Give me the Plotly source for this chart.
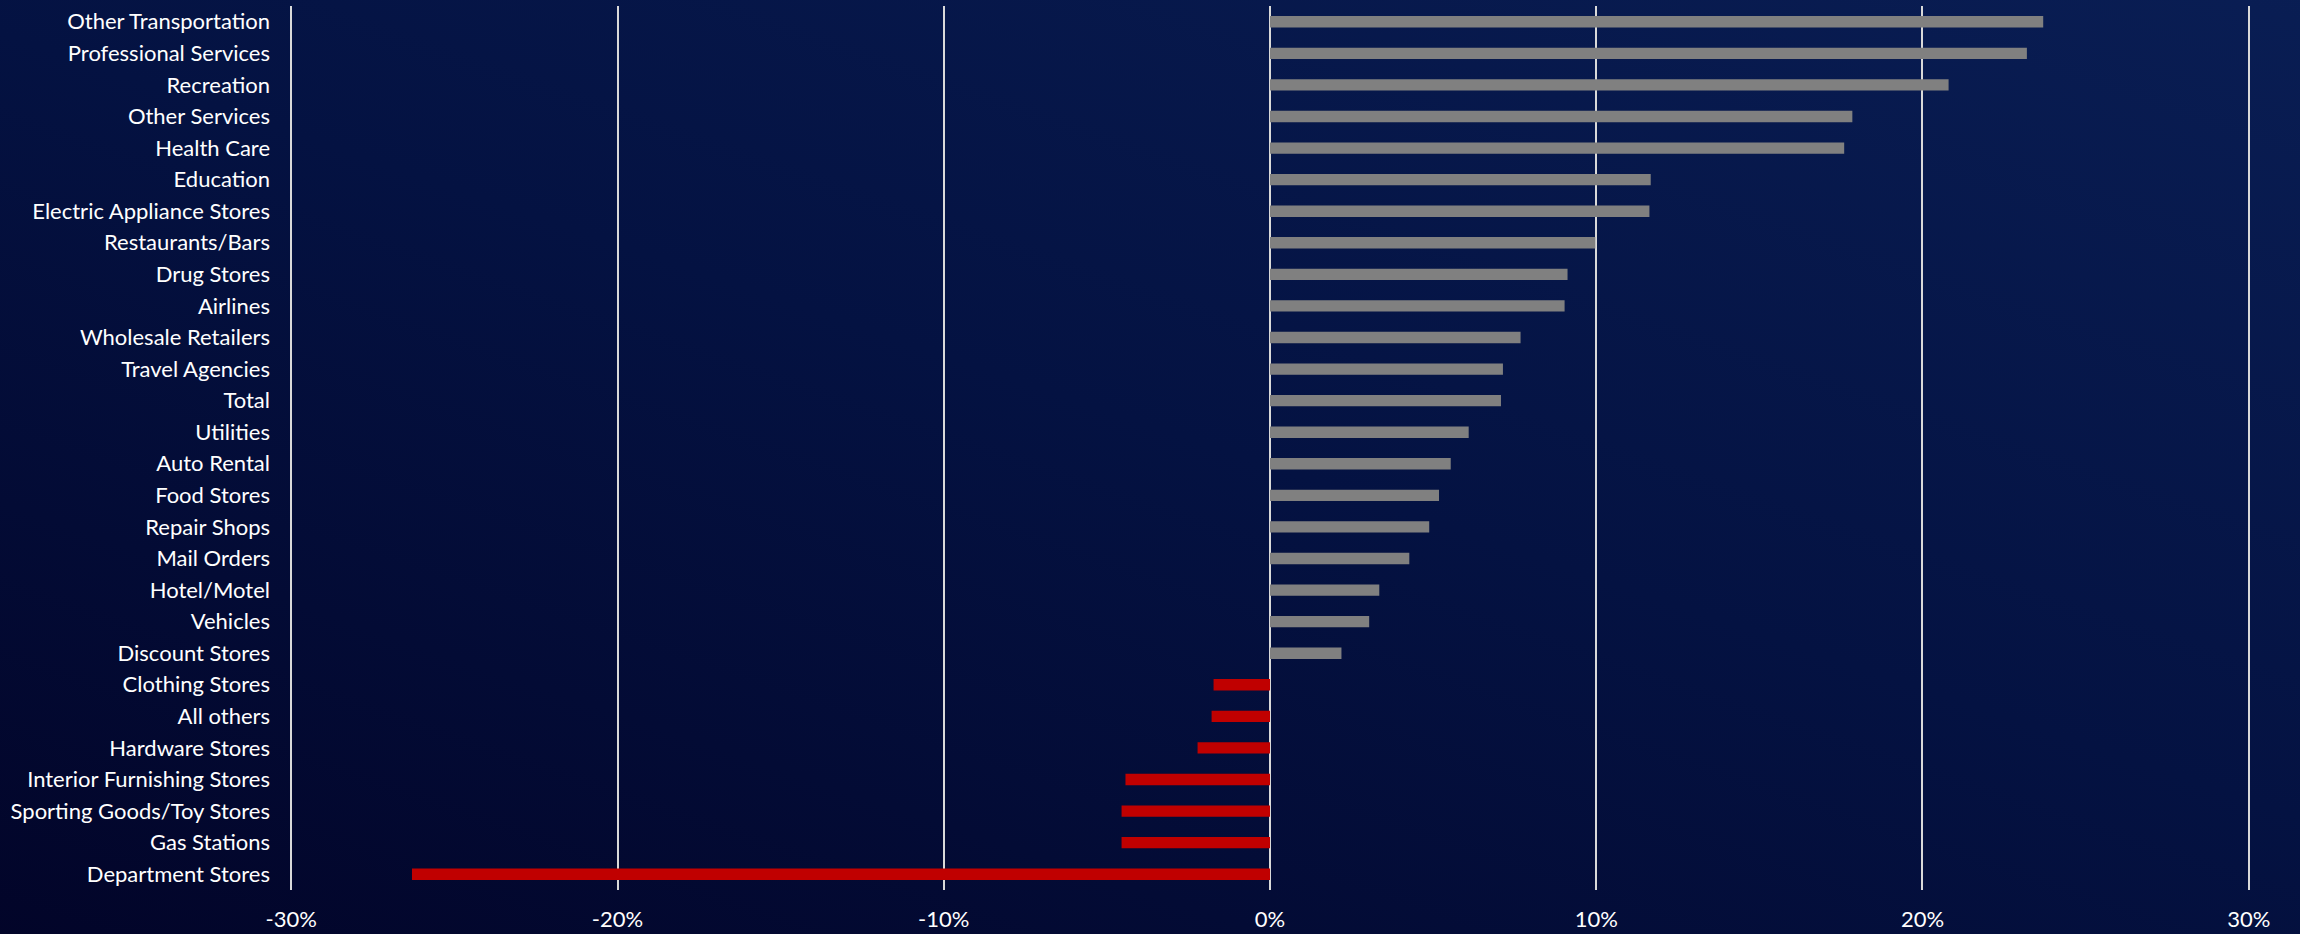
import plotly.graph_objects as go

categories = [
    "Other Transportation", "Professional Services", "Recreation", "Other Services",
    "Health Care", "Education", "Electric Appliance Stores", "Restaurants/Bars",
    "Drug Stores", "Airlines", "Wholesale Retailers", "Travel Agencies", "Total",
    "Utilities", "Auto Rental", "Food Stores", "Repair Shops", "Mail Orders",
    "Hotel/Motel", "Vehicles", "Discount Stores", "Clothing Stores", "All others",
    "Hardware Stores", "Interior Furnishing Stores", "Sporting Goods/Toy Stores",
    "Gas Stations", "Department Stores",
]
values = [
    23.7, 23.2, 20.8, 17.85, 17.6, 11.67, 11.63, 9.97,
    9.12, 9.03, 7.68, 7.14, 7.08,
    6.09, 5.54, 5.18, 4.88, 4.27,
    3.35, 3.04, 2.19, -1.73, -1.79,
    -2.22, -4.43, -4.55,
    -4.55, -26.3,
]
tick_vals = [-30, -20, -10, 0, 10, 20, 30]
tick_text = ["-30%", "-20%", "-10%", "0%", "10%", "20%", "30%"]

colors = ["#808080" if v >= 0 else "#C00000" for v in values]

fig = go.Figure(go.Bar(
    x=values, y=categories, orientation="h",
    marker=dict(color=colors, line=dict(width=0)),
    width=0.36,
))

bg_svg = (
    "data:image/svg+xml;utf8,"
    "<svg xmlns='http://www.w3.org/2000/svg' width='2300' height='934'>"
    "<defs><linearGradient id='g' x1='0' y1='1' x2='1' y2='0'>"
    "<stop offset='0' stop-color='%23020428'/>"
    "<stop offset='0.5' stop-color='%23041242'/>"
    "<stop offset='1' stop-color='%230a1f56'/>"
    "</linearGradient></defs>"
    "<rect width='2300' height='934' fill='url(%23g)'/></svg>"
)

fig.update_layout(
    width=2300, height=934,
    margin=dict(l=288, r=48, t=6, b=44, autoexpand=False),
    paper_bgcolor="#040c3a",
    plot_bgcolor="rgba(0,0,0,0)",
    showlegend=False,
    font=dict(family="Lato, 'Open Sans', sans-serif", color="#ffffff", size=22),
    images=[dict(source=bg_svg, xref="paper", yref="paper", x=-0.2, y=1.01,
                 sizex=1.4, sizey=1.06, sizing="stretch", layer="below",
                 xanchor="left", yanchor="top")],
    xaxis=dict(
        range=[-30.1, 30.1], tickvals=tick_vals, ticktext=tick_text,
        showgrid=True, gridcolor="#d9d9d9", gridwidth=2,
        zeroline=True, zerolinecolor="#d9d9d9", zerolinewidth=2,
        showline=False, ticks="", ticklabelstandoff=14, automargin=False,
        tickfont=dict(size=22, color="#ffffff"),
    ),
    yaxis=dict(
        categoryorder="array", categoryarray=categories, autorange="reversed",
        showgrid=False, zeroline=False, showline=False, ticks="", automargin=False,
        ticklabelstandoff=17, tickfont=dict(size=22, color="#ffffff"),
    ),
)

fig.write_html("out.html")
